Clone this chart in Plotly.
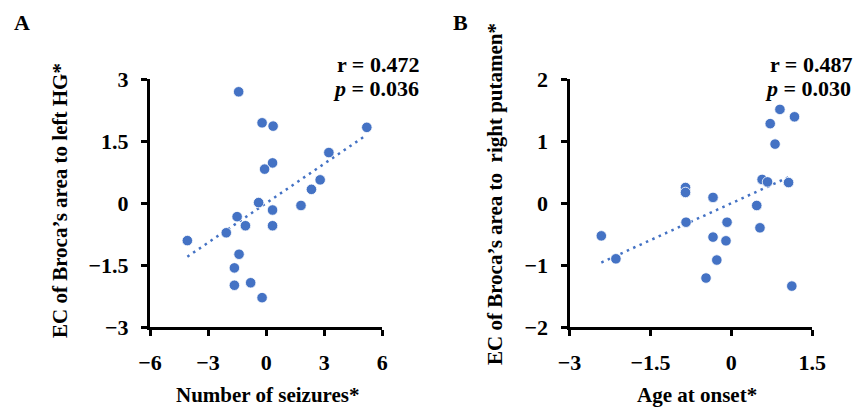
import plotly.graph_objects as go

W, H = 854, 408

# Panel A data
seizures_x = [-1.42, -0.21, 0.36, 0.33, -0.08, 5.20, 3.24, 2.79, 2.34, 1.80, -0.39,
              0.33, 0.33, -1.50, -1.07, -2.06, -4.07, -1.40, -1.64, -1.64, -0.80, -0.21]
ec_left_hg = [2.69, 1.94, 1.86, 0.97, 0.82, 1.83, 1.22, 0.56, 0.33, -0.06, 0.01,
              -0.17, -0.55, -0.33, -0.55, -0.72, -0.91, -1.24, -1.57, -1.99, -1.93, -2.29]
trend_a_x = [-4.07, 5.20]
trend_a_y = [-1.30, 1.65]

# Panel B data
onset_x = [0.90, 1.17, 0.72, 0.81, 0.57, 0.67, 1.06, -0.85, -0.85, -0.34, 0.47,
           -0.84, -0.08, 0.53, -0.34, -0.10, -2.41, -2.14, -0.27, -0.47, 1.12]
ec_right_put = [1.51, 1.39, 1.28, 0.95, 0.38, 0.34, 0.33, 0.25, 0.17, 0.09, -0.04,
                -0.31, -0.31, -0.40, -0.55, -0.61, -0.53, -0.90, -0.92, -1.21, -1.34]
trend_b_x = [-2.41, 1.12]
trend_b_y = [-0.96, 0.44]

xticks_a = [-6, -3, 0, 3, 6]
yticks_a = [-3, -1.5, 0, 1.5, 3]
xticks_b = [-3, -1.5, 0, 1.5]
yticks_b = [-2, -1, 0, 1, 2]

BLUE = "#4472C4"
FONT = "Liberation Serif"

def px(x):
    return x / W

def py(y):
    return 1 - y / H

fig = go.Figure()

marker = dict(size=10.5, color=BLUE, line=dict(color="white", width=0.8))
dotline = dict(color=BLUE, width=2.5, dash="2.5px,4.5px")

fig.add_trace(go.Scatter(x=trend_a_x, y=trend_a_y, mode="lines", line=dotline,
                         xaxis="x", yaxis="y", showlegend=False, hoverinfo="skip"))
fig.add_trace(go.Scatter(x=seizures_x, y=ec_left_hg, mode="markers", marker=marker,
                         xaxis="x", yaxis="y", showlegend=False))
fig.add_trace(go.Scatter(x=trend_b_x, y=trend_b_y, mode="lines", line=dotline,
                         xaxis="x2", yaxis="y2", showlegend=False, hoverinfo="skip"))
fig.add_trace(go.Scatter(x=onset_x, y=ec_right_put, mode="markers", marker=marker,
                         xaxis="x2", yaxis="y2", showlegend=False))

tickfont = dict(family=FONT, size=22, color="black", weight="bold")
axis_common = dict(showline=True, linewidth=3, linecolor="black", ticks="outside",
                   ticklen=6, tickwidth=3, tickcolor="black", showgrid=False,
                   zeroline=False, tickfont=tickfont, ticklabelstandoff=8,
                   automargin=False)

ydom = [py(327), py(79)]
fig.update_layout(
    template="none",
    width=W, height=H,
    margin=dict(l=0, r=0, t=0, b=0, autoexpand=False),
    plot_bgcolor="white", paper_bgcolor="white",
    xaxis=dict(domain=[px(150), px(382.3)], range=[-6, 6], tickvals=xticks_a,
               anchor="y", **axis_common),
    yaxis=dict(domain=ydom, range=[-3, 3], tickvals=yticks_a, anchor="x", **axis_common),
    xaxis2=dict(domain=[px(569.5), px(812.3)], range=[-3, 1.5], tickvals=xticks_b,
                anchor="y2", **axis_common),
    yaxis2=dict(domain=ydom, range=[-2, 2], tickvals=yticks_b, anchor="x2", **axis_common),
)

def ann(text, x, y, size=21, angle=0, xanchor="center"):
    fig.add_annotation(text=text, x=px(x), y=py(y), xref="paper", yref="paper",
                       showarrow=False, textangle=angle, xanchor=xanchor, yanchor="middle",
                       font=dict(family=FONT, size=size, color="black"))

ann("<b>A</b>", 22, 22, size=22)
ann("<b>B</b>", 460, 22, size=22)
ann("<b>Number of seizures*</b>", 268, 395)
ann("<b>Age at onset*</b>", 697, 395)
ann("<b>EC of Broca\u2019s area to left HG*</b>", 60, 201, angle=-90)
ann("<b>EC of Broca\u2019s area to  right putamen*</b>", 495, 194, angle=-90)
ann("<b>r = 0.472</b>", 378, 64, size=22)
ann("<b><i>p</i> = 0.036</b>", 376, 88, size=22)
ann("<b>r = 0.487</b>", 811, 64, size=22)
ann("<b><i>p</i> = 0.030</b>", 808, 88, size=22)

fig.write_html(
    "out.html",
    config={"displayModeBar": False},
    post_script="document.body.style.margin='0';document.body.style.overflow='hidden';",
)
